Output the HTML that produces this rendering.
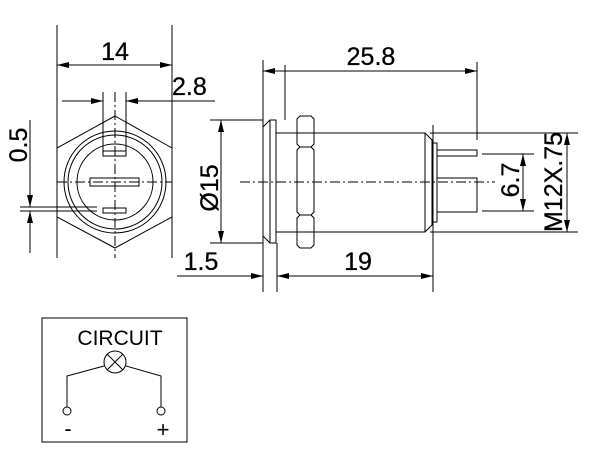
<!DOCTYPE html>
<html><head><style>body{margin:0;background:#fff}svg{display:block}text{font-family:"Liberation Sans",sans-serif;fill:#000}</style></head><body>
<svg width="600" height="464" viewBox="0 0 600 464" xmlns="http://www.w3.org/2000/svg">
<defs><marker id="a" viewBox="0 0 12 6" refX="12" refY="3" markerWidth="12" markerHeight="6" orient="auto-start-reverse" markerUnits="userSpaceOnUse"><path d="M0,0L12,3L0,6z" fill="#000"/></marker></defs>
<g stroke="#000" stroke-width="1" fill="none">
<line x1="57" y1="25" x2="57" y2="258"/><line x1="172" y1="25" x2="172" y2="258"/>
<line x1="57" y1="65" x2="172" y2="65" marker-start="url(#a)" marker-end="url(#a)"/>
<polygon points="115,116 172,148 172,217 115,248 57,217 57,148"/>
<circle cx="115" cy="182" r="51"/><circle cx="115" cy="182" r="47"/><circle cx="115" cy="182" r="38"/>
<line x1="103" y1="92" x2="103" y2="151"/><line x1="126" y1="92" x2="126" y2="151"/>
<line x1="62" y1="101" x2="103" y2="101" marker-end="url(#a)"/>
<line x1="215" y1="101" x2="126" y2="101" marker-end="url(#a)"/>
<rect x="103" y="151" width="23" height="5"/><rect x="90" y="178" width="49" height="8"/><rect x="103" y="208" width="23" height="5"/>
<line x1="57" y1="182" x2="172" y2="182" stroke-dasharray="10,3,2,3"/>
<line x1="115" y1="92" x2="115" y2="258" stroke-dasharray="10,3,2,3"/>
<line x1="20" y1="207" x2="97" y2="207"/><line x1="20" y1="211" x2="97" y2="211"/>
<line x1="30" y1="120" x2="30" y2="207" marker-end="url(#a)"/>
<line x1="30" y1="253" x2="30" y2="211" marker-end="url(#a)"/>
<polygon points="270,120 276,120 276,243 270,243 263,236 263,127"/>
<line x1="270" y1="120" x2="270" y2="243"/>
<line x1="210" y1="120" x2="263" y2="120"/><line x1="210" y1="243" x2="263" y2="243"/>
<line x1="221" y1="120" x2="221" y2="243" marker-start="url(#a)" marker-end="url(#a)"/>
<polyline points="276,133 425,133 432,140 432,225 425,232 276,232"/>
<line x1="425" y1="133" x2="425" y2="232"/>
<rect x="432" y="143" width="5" height="79"/>
<path d="M300,116 H311 L314,119 V144 L311,147 L314,150 V212 L311,215 L314,218 V245 L311,248 H300 L297,245 V218 L300,215 L297,212 V150 L300,147 L297,144 V119 Z"/>
<line x1="300" y1="147" x2="311" y2="147"/><line x1="300" y1="215" x2="311" y2="215"/>
<rect x="437" y="150" width="40" height="6"/><rect x="437" y="178" width="40" height="34"/>
<line x1="240" y1="182" x2="495" y2="182" stroke-dasharray="10,3,2,3"/>
<line x1="263" y1="60" x2="263" y2="292"/><line x1="285" y1="65" x2="285" y2="120"/><line x1="477" y1="62" x2="477" y2="140"/>
<line x1="263" y1="71" x2="477" y2="71" marker-start="url(#a)" marker-end="url(#a)"/>
<line x1="277" y1="243" x2="277" y2="292"/><line x1="433" y1="125" x2="433" y2="292"/>
<line x1="277" y1="276" x2="433" y2="276" marker-start="url(#a)" marker-end="url(#a)"/>
<line x1="177" y1="276" x2="263" y2="276" marker-end="url(#a)"/>
<line x1="482" y1="154" x2="534" y2="154"/><line x1="482" y1="211" x2="534" y2="211"/>
<line x1="523" y1="154" x2="523" y2="211" marker-start="url(#a)" marker-end="url(#a)"/>
<line x1="430" y1="133" x2="578" y2="133"/><line x1="430" y1="232" x2="578" y2="232"/>
<line x1="567" y1="133" x2="567" y2="232" marker-start="url(#a)" marker-end="url(#a)"/>
<rect x="42" y="318" width="145" height="124"/>
<circle cx="115" cy="362" r="11"/>
<line x1="107" y1="354" x2="123" y2="370"/><line x1="123" y1="354" x2="107" y2="370"/>
<polyline points="104,366 67,376 67,407"/><polyline points="126,366 161,376 161,407"/>
<circle cx="67" cy="411" r="4"/><circle cx="161" cy="411" r="4"/>
</g>
<g font-size="25" stroke="#000" stroke-width="0.3">
<text x="115" y="60" text-anchor="middle">14</text>
<text x="172" y="95">2.8</text>
<text x="371" y="65" text-anchor="middle">25.8</text>
<text x="358" y="270" text-anchor="middle">19</text>
<text x="201" y="270" text-anchor="middle">1.5</text>
<text transform="translate(27,145) rotate(-90)" text-anchor="middle">0.5</text>
<text transform="translate(218,188) rotate(-90)" text-anchor="middle">Ø15</text>
<text transform="translate(519,180) rotate(-90)" text-anchor="middle">6.7</text>
<text transform="translate(562,182) rotate(-90)" text-anchor="middle">M12X.75</text>
</g>
<text x="120" y="345" font-size="21" text-anchor="middle">CIRCUIT</text>
<text x="68" y="436" font-size="22" text-anchor="middle">-</text>
<text x="163" y="437" font-size="22" text-anchor="middle">+</text>
</svg>
</body></html>
